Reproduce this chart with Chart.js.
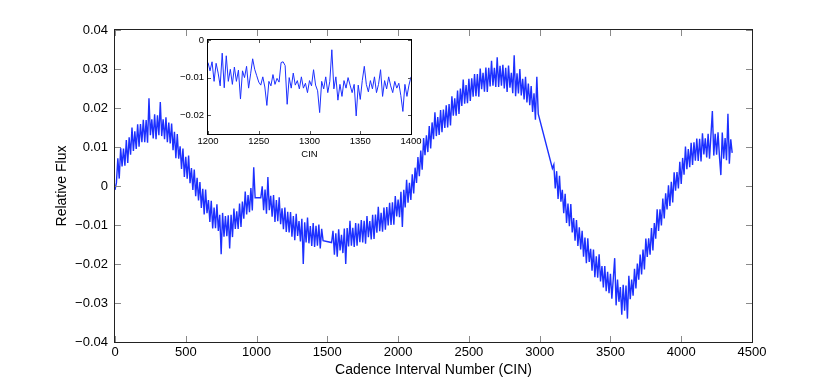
<!DOCTYPE html>
<html><head><meta charset="utf-8">
<script src="https://cdn.jsdelivr.net/npm/chart.js@4.4.1/dist/chart.umd.min.js"></script>
<style>
html,body{margin:0;padding:0;background:#fff;}
#wrap{position:relative;width:830px;height:387px;background:#fff;}
canvas{position:absolute;left:0;top:0;}
</style></head><body>
<div id="wrap"><canvas id="main" width="830" height="387"></canvas><canvas id="inset" width="830" height="387"></canvas></div>
<script>
// ---- main light curve: cadence interval numbers ----
const cin = [
0,10,20,30,40,50,60,70,80,90,
100,110,120,130,140,150,160,170,180,190,
200,210,220,230,240,250,260,270,280,290,
300,310,320,330,340,350,360,370,380,390,
400,410,420,430,440,450,460,470,480,490,
500,510,520,530,540,550,560,570,580,590,
600,610,620,630,640,650,660,670,680,690,
700,710,720,730,740,750,760,770,780,790,
800,810,820,830,840,850,860,870,880,890,
900,910,920,930,940,950,960,970,980,990,
1030,1040,1050,1060,1070,1080,1090,1100,1110,1120,
1130,1140,1150,1160,1170,1180,1190,1200,1210,1220,
1230,1240,1250,1260,1270,1280,1290,1300,1310,1320,
1330,1340,1350,1360,1370,1380,1390,1400,1410,1420,
1430,1440,1450,1460,1470,
1530,1540,1550,1560,1570,1580,1590,1600,1610,1620,
1630,1640,1650,1660,1670,1680,1690,1700,1710,1720,
1730,1740,1750,1760,1770,1780,1790,1800,1810,1820,
1830,1840,1850,1860,1870,1880,1890,1900,1910,1920,
1930,1940,1950,1960,1970,1980,1990,2000,2010,2020,
2030,2040,2050,2060,2070,2080,2090,2100,2110,2120,
2130,2140,2150,2160,2170,2180,2190,2200,2210,2220,
2230,2240,2250,2260,2270,2280,2290,2300,2310,2320,
2330,2340,2350,2360,2370,2380,2390,2400,2410,2420,
2430,2440,2450,2460,2470,2480,2490,2500,2510,2520,
2530,2540,2550,2560,2570,2580,2590,2600,2610,2620,
2630,2640,2650,2660,2670,2680,2690,2700,2710,2720,
2730,2740,2750,2760,2770,2780,2790,2800,2810,2820,
2830,2840,2850,2860,2870,2880,2890,2900,2910,2920,
2930,2940,2950,2960,2970,2980,2990,
3090,3100,3110,3120,3130,3140,3150,3160,3170,3180,
3190,3200,3210,3220,3230,3240,3250,3260,3270,3280,
3290,3300,3310,3320,3330,3340,3350,3360,3370,3380,
3390,3400,3410,3420,3430,3440,3450,3460,3470,3480,
3490,3500,3510,3520,3530,3540,3550,3560,3570,3580,
3590,3600,3610,3620,3630,3640,3650,3660,3670,3680,
3690,3700,3710,3720,3730,3740,3750,3760,3770,3780,
3790,3800,3810,3820,3830,3840,3850,3860,3870,3880,
3890,3900,3910,3920,3930,3940,3950,3960,3970,3980,
3990,4000,4010,4020,4030,4040,4050,4060,4070,4080,
4090,4100,4110,4120,4130,4140,4150,4160,4170,4180,
4190,4200,4210,4220,4230,4240,4250,4260,4270,4280,
4290,4300,4310,4320,4330,4340,4350,4360
];
// ---- main light curve: relative flux ----
const flux = [
-0.0010,0.0008,0.0071,0.0019,0.0097,0.0050,0.0096,0.0052,0.0118,0.0059,
0.0125,0.0080,0.0150,0.0090,0.0140,0.0095,0.0158,0.0101,0.0159,0.0112,
0.0170,0.0112,0.0169,0.0111,0.0225,0.0130,0.0171,0.0122,0.0184,0.0120,
0.0181,0.0130,0.0215,0.0128,0.0171,0.0120,0.0176,0.0112,0.0163,0.0109,
0.0160,0.0092,0.0139,0.0071,0.0133,0.0070,0.0102,0.0044,0.0096,0.0023,
0.0075,0.0019,0.0078,0.0007,0.0046,-0.0010,0.0042,-0.0026,0.0021,-0.0037,
0.0010,-0.0056,-0.0007,-0.0073,-0.0009,-0.0070,-0.0036,-0.0092,-0.0038,-0.0109,
-0.0055,-0.0108,-0.0047,-0.0115,-0.0074,-0.0175,-0.0069,-0.0130,-0.0077,-0.0129,
-0.0075,-0.0160,-0.0074,-0.0131,-0.0058,-0.0110,-0.0065,-0.0110,-0.0045,-0.0105,
-0.0040,-0.0084,-0.0014,-0.0073,-0.0023,-0.0067,-0.0005,-0.0063,0.0048,-0.0030,
-0.0030,-0.0001,-0.0062,-0.0009,-0.0071,0.0023,-0.0062,-0.0025,-0.0079,-0.0023,
-0.0092,-0.0036,-0.0090,-0.0029,-0.0098,-0.0057,-0.0111,-0.0055,-0.0118,-0.0066,
-0.0119,-0.0067,-0.0130,-0.0077,-0.0139,-0.0071,-0.0128,-0.0090,-0.0142,-0.0084,
-0.0200,-0.0093,-0.0145,-0.0081,-0.0147,-0.0103,-0.0154,-0.0095,-0.0156,-0.0102,
-0.0153,-0.0099,-0.0160,-0.0110,-0.0140,
-0.0145,-0.0115,-0.0176,-0.0121,-0.0181,-0.0111,-0.0165,-0.0125,-0.0172,-0.0109,
-0.0200,-0.0108,-0.0155,-0.0089,-0.0153,-0.0107,-0.0156,-0.0095,-0.0153,-0.0096,
-0.0144,-0.0087,-0.0145,-0.0089,-0.0148,-0.0077,-0.0131,-0.0090,-0.0137,-0.0074,
-0.0136,-0.0073,-0.0120,-0.0053,-0.0116,-0.0069,-0.0117,-0.0055,-0.0112,-0.0054,
-0.0101,-0.0043,-0.0100,-0.0042,-0.0099,-0.0026,-0.0078,-0.0035,-0.0080,-0.0015,
-0.0105,-0.0010,-0.0055,0.0016,-0.0043,0.0008,-0.0036,0.0030,-0.0019,0.0047,
0.0008,0.0074,0.0025,0.0091,0.0042,0.0123,0.0079,0.0130,0.0087,0.0154,
0.0096,0.0163,0.0120,0.0189,0.0128,0.0177,0.0131,0.0195,0.0138,0.0196,
0.0149,0.0207,0.0150,0.0210,0.0155,0.0230,0.0180,0.0225,0.0180,0.0245,
0.0185,0.0250,0.0205,0.0273,0.0211,0.0259,0.0212,0.0275,0.0218,0.0276,
0.0229,0.0287,0.0230,0.0287,0.0229,0.0301,0.0248,0.0290,0.0242,0.0304,
0.0241,0.0303,0.0255,0.0321,0.0257,0.0303,0.0254,0.0330,0.0254,0.0308,
0.0257,0.0311,0.0250,0.0303,0.0241,0.0309,0.0252,0.0290,0.0238,0.0335,
0.0230,0.0289,0.0237,0.0300,0.0232,0.0275,0.0222,0.0280,0.0214,0.0263,
0.0207,0.0256,0.0190,0.0238,0.0170,0.0280,0.0185,
0.0045,0.0055,-0.0006,0.0038,-0.0033,0.0026,-0.0040,-0.0010,-0.0070,-0.0020,
-0.0095,-0.0045,-0.0103,-0.0046,-0.0119,-0.0082,-0.0140,-0.0087,-0.0154,-0.0106,
-0.0163,-0.0115,-0.0181,-0.0132,-0.0198,-0.0134,-0.0195,-0.0161,-0.0217,-0.0163,
-0.0234,-0.0180,-0.0235,-0.0175,-0.0245,-0.0205,-0.0260,-0.0205,-0.0270,-0.0220,
-0.0275,-0.0225,-0.0289,-0.0238,-0.0185,-0.0306,-0.0240,-0.0297,-0.0259,-0.0330,
-0.0253,-0.0320,-0.0255,-0.0340,-0.0230,-0.0290,-0.0240,-0.0281,-0.0212,-0.0263,
-0.0199,-0.0240,-0.0176,-0.0227,-0.0163,-0.0214,-0.0135,-0.0182,-0.0134,-0.0176,
-0.0108,-0.0165,-0.0095,-0.0135,-0.0060,-0.0115,-0.0060,-0.0101,-0.0032,-0.0083,
-0.0019,-0.0060,0.0002,-0.0051,0.0011,-0.0042,0.0035,-0.0012,0.0036,-0.0006,
0.0062,0.0005,0.0072,0.0029,0.0101,0.0043,0.0095,0.0048,0.0111,0.0054,
0.0112,0.0065,0.0122,0.0064,0.0121,0.0063,0.0135,0.0081,0.0122,0.0073,
0.0134,0.0070,0.0131,0.0192,0.0078,0.0134,0.0080,0.0138,0.0076,0.0028,
0.0137,0.0070,0.0123,0.0066,0.0185,0.0057,0.0120,0.0085
];
// ---- inset (zoom on CIN 1200-1400) ----
const insetCin = [1200,1202,1204,1206,1208,1210,1212,1214,1216,1218,1220,1222,1224,1226,1228,1230,1232,1234,1236,1238,1240,1242,1244,1246,1248,1250,1252,1254,1256,1258,1260,1262,1264,1266,1268,1270,1272,1274,1276,1278,1280,1282,1284,1286,1288,1290,1292,1294,1296,1298,1300,1302,1304,1306,1308,1310,1312,1314,1316,1318,1320,1322,1324,1326,1328,1330,1332,1334,1336,1338,1340,1342,1344,1346,1348,1350,1352,1354,1356,1358,1360,1362,1364,1366,1368,1370,1372,1374,1376,1378,1380,1382,1384,1386,1388,1390,1392,1394,1396,1398,1400];
const insetFlux = [-0.0060,-0.0082,-0.0058,-0.0110,-0.0062,-0.0088,-0.0122,-0.0035,-0.0127,-0.0042,-0.0110,-0.0078,-0.0118,-0.0072,-0.0110,-0.0080,-0.0157,-0.0082,-0.0100,-0.0070,-0.0128,-0.0090,-0.0050,-0.0078,-0.0095,-0.0112,-0.0120,-0.0098,-0.0125,-0.0174,-0.0110,-0.0122,-0.0092,-0.0118,-0.0102,-0.0112,-0.0060,-0.0058,-0.0068,-0.0171,-0.0100,-0.0128,-0.0088,-0.0120,-0.0108,-0.0130,-0.0098,-0.0128,-0.0115,-0.0140,-0.0108,-0.0122,-0.0079,-0.0120,-0.0135,-0.0193,-0.0110,-0.0130,-0.0098,-0.0140,-0.0110,-0.0026,-0.0130,-0.0098,-0.0160,-0.0118,-0.0150,-0.0108,-0.0128,-0.0100,-0.0120,-0.0140,-0.0118,-0.0202,-0.0120,-0.0158,-0.0108,-0.0070,-0.0118,-0.0138,-0.0108,-0.0130,-0.0098,-0.0140,-0.0118,-0.0079,-0.0150,-0.0108,-0.0130,-0.0098,-0.0122,-0.0140,-0.0110,-0.0128,-0.0115,-0.0148,-0.0190,-0.0118,-0.0150,-0.0120,-0.0098];

// ---- ticks ----
const xTicks = [0,500,1000,1500,2000,2500,3000,3500,4000,4500];
const xTickLabels = ['0','500','1000','1500','2000','2500','3000','3500','4000','4500'];
const yTicks = [-0.04,-0.03,-0.02,-0.01,0,0.01,0.02,0.03,0.04];
const yTickLabels = ['\u22120.04','\u22120.03','\u22120.02','\u22120.01','0','0.01','0.02','0.03','0.04'];
const insetXTicks = [1200,1250,1300,1350,1400];
const insetXTickLabels = ['1200','1250','1300','1350','1400'];
const insetYTicks = [-0.02,-0.01,0];
const insetYTickLabels = ['\u22120.02','\u22120.01','0'];

const FONT = "'Liberation Sans', Arial, Helvetica, sans-serif";
const LINE = 'rgb(28,48,255)';

function labelFrom(values, labels){
  return function(v){ const i = values.findIndex(t => Math.abs(t - v) < 1e-9); return i >= 0 ? labels[i] : ''; };
}
function frame(opts){
  return {
    id: 'frame',
    beforeDraw(chart){
      if (!opts.fill) return;
      const a = chart.chartArea, c = chart.ctx;
      c.save(); c.fillStyle = '#fff'; c.fillRect(a.left, a.top, a.right - a.left, a.bottom - a.top); c.restore();
    },
    afterDraw(chart){
      const {ctx: c, chartArea: a, scales: {x, y}} = chart;
      const L = opts.len;
      c.save();
      c.lineWidth = 1; c.strokeStyle = opts.tickColor;
      c.beginPath();
      x.ticks.forEach(t => {
        const p = Math.round(x.getPixelForValue(t.value)) + 0.5;
        c.moveTo(p, a.bottom); c.lineTo(p, a.bottom - L);
        c.moveTo(p, a.top); c.lineTo(p, a.top + L);
      });
      y.ticks.forEach(t => {
        const p = Math.round(y.getPixelForValue(t.value)) + 0.5;
        c.moveTo(a.left, p); c.lineTo(a.left + L, p);
        c.moveTo(a.right, p); c.lineTo(a.right - L, p);
      });
      c.stroke();
      c.strokeStyle = opts.boxColor; c.lineWidth = 1;
      c.strokeRect(Math.round(a.left) - 0.5, Math.round(a.top) - 0.5, Math.round(a.right - a.left) + 1, Math.round(a.bottom - a.top) + 1);
      c.restore();
    }
  };
}

new Chart(document.getElementById('main'), {
  type: 'scatter',
  data: { datasets: [{
    data: cin.map((v, i) => ({x: v, y: flux[i]})),
    showLine: true, borderColor: LINE, borderWidth: 1.4, pointRadius: 0, tension: 0
  }]},
  options: {
    responsive: false, animation: false, events: [],
    layout: { padding: { left: 0, right: 78, top: 30, bottom: 0 } },
    plugins: { legend: { display: false }, tooltip: { enabled: false } },
    scales: {
      x: {
        type: 'linear', min: 0, max: 4500,
        afterBuildTicks: s => { s.ticks = xTicks.map(v => ({value: v})); },
        afterFit: s => { s.height = 45; },
        grid: { display: false, drawTicks: false }, border: { display: false },
        ticks: { padding: 3, color: '#000', font: { family: FONT, size: 13 }, maxRotation: 0, autoSkip: false, callback: labelFrom(xTicks, xTickLabels) },
        title: { display: true, text: 'Cadence Interval Number (CIN)', color: '#000', font: { family: FONT, size: 14 }, padding: { top: 0, bottom: 8 } }
      },
      y: {
        type: 'linear', min: -0.04, max: 0.04,
        afterBuildTicks: s => { s.ticks = yTicks.map(v => ({value: v})); },
        afterFit: s => { s.width = 115; },
        grid: { display: false, drawTicks: false }, border: { display: false },
        ticks: { padding: 7, color: '#000', font: { family: FONT, size: 13 }, autoSkip: false, callback: labelFrom(yTicks, yTickLabels) },
        title: { display: true, text: 'Relative Flux', color: '#000', font: { family: FONT, size: 14 }, padding: { top: 54, bottom: 0 } }
      }
    }
  },
  plugins: [frame({ len: 6, tickColor: '#8a8a8a', boxColor: '#222', fill: false })]
});

new Chart(document.getElementById('inset'), {
  type: 'scatter',
  data: { datasets: [{
    data: insetCin.map((v, i) => ({x: v, y: insetFlux[i]})),
    showLine: true, borderColor: LINE, borderWidth: 1, pointRadius: 0, tension: 0
  }]},
  options: {
    responsive: false, animation: false, events: [],
    layout: { padding: { left: 0, right: 419, top: 40, bottom: 223 } },
    plugins: { legend: { display: false }, tooltip: { enabled: false } },
    scales: {
      x: {
        type: 'linear', min: 1200, max: 1400,
        afterBuildTicks: s => { s.ticks = insetXTicks.map(v => ({value: v})); },
        afterFit: s => { s.height = 30; },
        grid: { display: false, drawTicks: false }, border: { display: false },
        ticks: { padding: 2, color: '#000', font: { family: FONT, size: 9.5 }, maxRotation: 0, autoSkip: false, callback: labelFrom(insetXTicks, insetXTickLabels) },
        title: { display: true, text: 'CIN', color: '#000', font: { family: FONT, size: 9.5 }, padding: { top: 0, bottom: 4 } }
      },
      y: {
        type: 'linear', min: -0.025, max: 0,
        afterBuildTicks: s => { s.ticks = insetYTicks.map(v => ({value: v})); },
        afterFit: s => { s.width = 208; },
        grid: { display: false, drawTicks: false }, border: { display: false },
        ticks: { padding: 4, color: '#000', font: { family: FONT, size: 9.5 }, autoSkip: false, callback: labelFrom(insetYTicks, insetYTickLabels) }
      }
    }
  },
  plugins: [frame({ len: 3, tickColor: '#555', boxColor: '#000', fill: true })]
});
</script>
</body></html>
